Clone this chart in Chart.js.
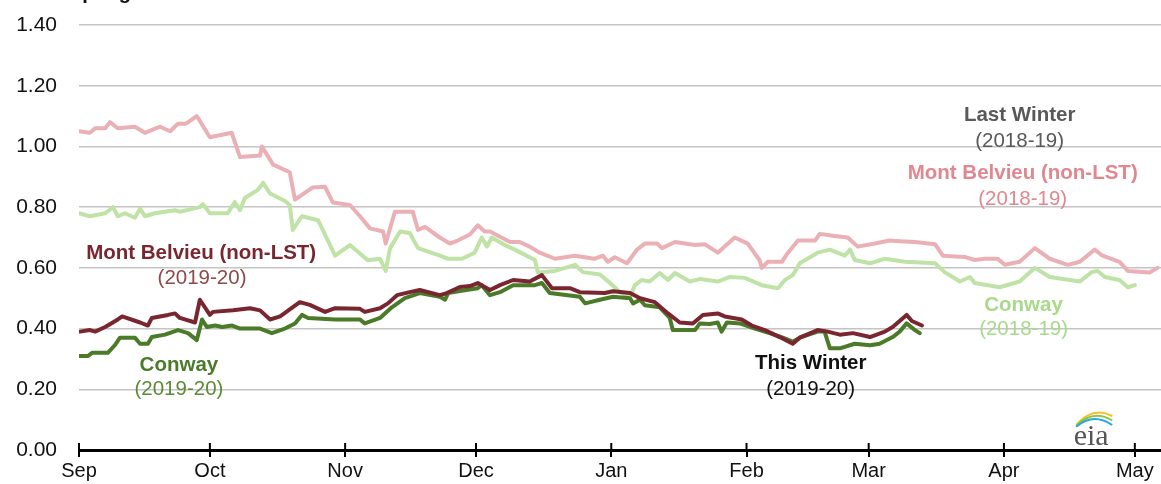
<!DOCTYPE html>
<html>
<head>
<meta charset="utf-8">
<script src="https://cdn.jsdelivr.net/npm/chart.js@4.4.1/dist/chart.umd.min.js"></script>
<style>
  body { margin: 0; background: #fff; }
  canvas { display: block; }
</style>
</head>
<body>
<canvas id="propane-chart" width="1161" height="484"></canvas>
<script>
// x values are days since Sep 1, y values are dollars per gallon

// month tick positions and names
const monthDays = [0, 30, 61, 91, 122, 153, 181, 212, 242];
const monthNames = ['Sep', 'Oct', 'Nov', 'Dec', 'Jan', 'Feb', 'Mar', 'Apr', 'May'];
const yTicks = [0, 0.2, 0.4, 0.6, 0.8, 1.0, 1.2, 1.4];

// Mont Belvieu (non-LST), last winter 2018-19
const mbLastDays = [0, 2.5, 3.7, 6, 7.1, 8.9, 12.8, 15.1, 18.6, 20.9, 22.7, 24.5, 27, 30, 35, 36.9, 41.5, 41.9, 44.5, 48.3, 49.5, 53.6, 56.4, 58.2, 62.1, 64.4, 66.7, 69.7, 70.3, 72.4, 76.5, 77.7, 79.3, 82.7, 85, 86.8, 89.6, 91.4, 93, 94.2, 98.8, 101, 103.3, 105.6, 109.1, 113.7, 118.2, 120.1, 121.2, 122.8, 125.6, 127.9, 129.7, 132.5, 133.6, 136.6, 141.2, 143.4, 146.4, 150.3, 153.3, 156, 156.5, 157.9, 161.1, 162.5, 164.8, 168.7, 169.8, 173.2, 176.2, 178.5, 182.4, 185.8, 188.1, 191.6, 196.2, 198, 203, 205.3, 207.6, 210.6, 212.2, 215.6, 219.1, 222.5, 226.6, 229.4, 232.8, 234.6, 238.5, 240.4, 245.4, 247.2];
const mbLastVals = [1.05, 1.045, 1.06, 1.06, 1.08, 1.06, 1.065, 1.045, 1.065, 1.05, 1.075, 1.075, 1.10, 1.03, 1.045, 0.965, 0.97, 1.00, 0.94, 0.915, 0.825, 0.865, 0.867, 0.815, 0.807, 0.77, 0.73, 0.72, 0.68, 0.785, 0.785, 0.725, 0.735, 0.70, 0.68, 0.69, 0.71, 0.74, 0.72, 0.72, 0.685, 0.685, 0.67, 0.65, 0.63, 0.64, 0.63, 0.64, 0.62, 0.635, 0.615, 0.66, 0.68, 0.68, 0.665, 0.685, 0.675, 0.678, 0.65, 0.70, 0.68, 0.625, 0.60, 0.62, 0.62, 0.65, 0.69, 0.69, 0.712, 0.705, 0.70, 0.67, 0.68, 0.69, 0.688, 0.685, 0.678, 0.64, 0.636, 0.626, 0.63, 0.63, 0.61, 0.62, 0.665, 0.63, 0.61, 0.62, 0.66, 0.64, 0.62, 0.59, 0.585, 0.60];

// Conway, last winter 2018-19
const cwLastDays = [0, 2.5, 6, 7.8, 8.9, 10.5, 12.8, 14, 15.1, 17.4, 22, 23.1, 27.7, 28.4, 30, 34.1, 35.7, 36.9, 38, 41, 42.2, 43.8, 47.2, 48.3, 49, 51.1, 54.8, 58.7, 62.1, 66.2, 69, 70.3, 71.3, 73.6, 75.8, 77.7, 82.7, 84.6, 87.8, 90.7, 92.3, 93.5, 94.6, 97.6, 99.9, 104.5, 105.2, 109.1, 113.7, 115.5, 119.4, 121.7, 124, 126.3, 127.4, 129, 130.8, 133.1, 135, 136.6, 140, 142.3, 146.4, 149.2, 152.6, 156.5, 160.2, 161.8, 163.6, 165.2, 169.3, 172.1, 175.5, 176.7, 177.8, 181.3, 184.7, 189.3, 196.2, 198.4, 201.9, 204.2, 205.3, 211, 215.6, 219.1, 222.5, 229.4, 232.1, 233.5, 235.1, 238.5, 240.4, 242];
const cwLastVals = [0.78, 0.77, 0.78, 0.80, 0.77, 0.78, 0.765, 0.795, 0.77, 0.78, 0.79, 0.785, 0.80, 0.81, 0.78, 0.78, 0.817, 0.79, 0.83, 0.857, 0.88, 0.845, 0.82, 0.807, 0.725, 0.77, 0.757, 0.64, 0.675, 0.625, 0.63, 0.59, 0.665, 0.72, 0.715, 0.665, 0.64, 0.63, 0.63, 0.65, 0.70, 0.67, 0.70, 0.675, 0.66, 0.626, 0.585, 0.59, 0.61, 0.586, 0.578, 0.55, 0.52, 0.505, 0.543, 0.56, 0.555, 0.583, 0.56, 0.583, 0.555, 0.563, 0.555, 0.57, 0.567, 0.543, 0.533, 0.56, 0.576, 0.615, 0.65, 0.66, 0.64, 0.66, 0.626, 0.615, 0.63, 0.62, 0.615, 0.586, 0.555, 0.57, 0.55, 0.536, 0.555, 0.60, 0.57, 0.555, 0.586, 0.59, 0.57, 0.56, 0.536, 0.543];

// Mont Belvieu (non-LST), this winter 2019-20
const mbThisDays = [0.2, 2.5, 3.7, 6, 8.9, 9.9, 14, 15.8, 16.7, 20.4, 22, 23.1, 26.6, 27.7, 30, 30.7, 35.3, 39.2, 41.5, 43.8, 46.1, 50.6, 52.9, 56.4, 58.7, 64.4, 65.5, 69, 70.8, 72.9, 75.8, 78.1, 82.7, 84.3, 87.3, 89.6, 91.4, 94.2, 96.5, 99.5, 103.3, 106.1, 108.4, 112.5, 114.8, 120.5, 122.4, 126.3, 128.6, 132, 135, 137.7, 140.7, 143, 146.4, 148, 151.9, 154.2, 157.2, 160.6, 163.6, 165.2, 169.3, 171.6, 174.4, 177.4, 181.3, 184.7, 186.5, 189.7, 190.9, 193.2];
const mbThisVals = [0.39, 0.395, 0.39, 0.405, 0.43, 0.44, 0.42, 0.41, 0.435, 0.445, 0.45, 0.435, 0.42, 0.495, 0.445, 0.455, 0.46, 0.467, 0.46, 0.43, 0.44, 0.487, 0.478, 0.455, 0.467, 0.465, 0.455, 0.467, 0.483, 0.51, 0.52, 0.527, 0.51, 0.517, 0.537, 0.54, 0.55, 0.527, 0.543, 0.56, 0.555, 0.576, 0.533, 0.533, 0.52, 0.517, 0.523, 0.517, 0.50, 0.487, 0.45, 0.42, 0.417, 0.445, 0.45, 0.44, 0.43, 0.41, 0.395, 0.372, 0.35, 0.37, 0.395, 0.39, 0.38, 0.385, 0.372, 0.39, 0.405, 0.445, 0.425, 0.41];

// Conway, this winter 2019-20
const cwThisDays = [0, 2.1, 3, 6.6, 8.2, 9.4, 12.8, 14, 15.8, 16.7, 19.7, 22.7, 25, 27, 28.2, 29.3, 31.2, 32.8, 35.1, 36.9, 41.5, 44.2, 47.2, 49.5, 51.1, 52.5, 58.7, 64.4, 65.5, 69, 71.7, 74.7, 78.1, 82.7, 83.9, 84.6, 87.3, 91.4, 92.3, 94.2, 96.5, 99.5, 104.5, 106.1, 107.9, 114.8, 116, 119.4, 122.4, 126.3, 127, 128.6, 129.7, 133.1, 135.4, 136.1, 141.2, 142.3, 144.6, 146.4, 147.3, 148.5, 151.5, 154.9, 158.3, 161.3, 163.6, 165.2, 169.3, 170.9, 172.1, 174.4, 177.8, 181.3, 183.5, 186.5, 188.1, 189.7, 191.6, 192.7];
const cwThisVals = [0.31, 0.31, 0.32, 0.32, 0.345, 0.37, 0.37, 0.35, 0.35, 0.372, 0.38, 0.395, 0.385, 0.362, 0.43, 0.405, 0.41, 0.405, 0.41, 0.40, 0.40, 0.385, 0.40, 0.417, 0.445, 0.435, 0.43, 0.43, 0.417, 0.435, 0.47, 0.50, 0.517, 0.505, 0.495, 0.517, 0.524, 0.533, 0.543, 0.51, 0.52, 0.543, 0.543, 0.55, 0.517, 0.505, 0.483, 0.495, 0.505, 0.50, 0.483, 0.495, 0.477, 0.47, 0.435, 0.395, 0.395, 0.417, 0.415, 0.42, 0.39, 0.42, 0.417, 0.40, 0.385, 0.37, 0.357, 0.37, 0.39, 0.39, 0.335, 0.335, 0.35, 0.345, 0.35, 0.372, 0.39, 0.417, 0.395, 0.385];

// text labels placed in data coordinates
const notes = [
    { text: 'Last Winter', day: 215.6, val: 1.103, color: '#595959', bold: true },
    { text: '(2018-19)', day: 215.6, val: 1.018, color: '#595959', bold: false },
    { text: 'Mont Belvieu (non-LST)', day: 216.3, val: 0.912, color: '#e08790', bold: true },
    { text: '(2018-19)', day: 216.3, val: 0.827, color: '#e08790', bold: false },
    { text: 'Conway', day: 216.5, val: 0.478, color: '#a9d98c', bold: true },
    { text: '(2018-19)', day: 216.5, val: 0.399, color: '#a9d98c', bold: false },
    { text: 'Mont Belvieu (non-LST)', day: 28, val: 0.649, color: '#7a2630', bold: true },
    { text: '(2019-20)', day: 28.2, val: 0.567, color: '#8c4a4a', bold: false },
    { text: 'Conway', day: 22.9, val: 0.28, color: '#4b7a29', bold: true },
    { text: '(2019-20)', day: 22.9, val: 0.20, color: '#5e8a38', bold: false },
    { text: 'This Winter', day: 167.7, val: 0.287, color: '#111111', bold: true },
    { text: '(2019-20)', day: 167.7, val: 0.20, color: '#111111', bold: false },
];

const FONT = '"Liberation Sans", Arial, sans-serif';

function toPoints(days, vals) {
    return days.map((d, i) => ({ x: d, y: vals[i] }));
}

function lineSet(label, days, vals, color) {
    return {
        label: label,
        data: toPoints(days, vals),
        borderColor: color,
        borderWidth: 4,
        pointRadius: 0,
        tension: 0,
        borderJoinStyle: 'round',
        borderCapStyle: 'round',
    };
}

// draws the upper half of the month ticks, the text labels and the eia mark
const overlay = {
    id: 'overlay',
    afterDraw(chart) {
        const ctx = chart.ctx;
        const x = chart.scales.x;
        const y = chart.scales.y;
        const y0 = y.getPixelForValue(0);
        ctx.save();

        ctx.strokeStyle = '#000';
        ctx.lineWidth = 2;
        monthDays.forEach(d => {
            const px = x.getPixelForValue(d);
            ctx.beginPath();
            ctx.moveTo(px, y0 - 7);
            ctx.lineTo(px, y0);
            ctx.stroke();
        });

        ctx.textAlign = 'center';
        ctx.textBaseline = 'middle';
        notes.forEach(n => {
            ctx.font = (n.bold ? 'bold ' : '') + '20.5px ' + FONT;
            ctx.fillStyle = n.color;
            ctx.fillText(n.text, x.getPixelForValue(n.day), y.getPixelForValue(n.val));
        });

        // unit title, cut off at the top edge
        ctx.textAlign = 'left';
        ctx.textBaseline = 'alphabetic';
        ctx.font = 'bold 20px ' + FONT;
        ctx.fillStyle = '#111';
        ctx.fillText('dollars per gallon', 11, -1);

        // eia logo
        const lx = x.getPixelForValue(232);
        ctx.font = '30px "Liberation Serif", "DejaVu Serif", serif';
        ctx.fillStyle = '#555';
        ctx.textAlign = 'center';
        ctx.fillText('eia', lx, y0 - 5);
        const arcs = [['#f2c12e', 0], ['#8cc63f', 3], ['#2aa7df', 6]];
        ctx.lineWidth = 2;
        arcs.forEach(a => {
            ctx.strokeStyle = a[0];
            ctx.beginPath();
            ctx.moveTo(lx - 15, y0 - 25 + a[1] * 0.3);
            ctx.quadraticCurveTo(lx + 2, y0 - 44 + a[1], lx + 21, y0 - 34 + a[1] * 1.5);
            ctx.stroke();
        });
        ctx.restore();
    }
};

const chart = new Chart(document.getElementById('propane-chart').getContext('2d'), {
    type: 'line',
    data: {
        datasets: [
            lineSet('Mont Belvieu (non-LST) 2019-20', mbThisDays, mbThisVals, '#7a2630'),
            lineSet('Conway 2019-20', cwThisDays, cwThisVals, '#4b7a29'),
            lineSet('Conway 2018-19', cwLastDays, cwLastVals, '#bfe3a6'),
            lineSet('Mont Belvieu (non-LST) 2018-19', mbLastDays, mbLastVals, '#eab0b5'),
        ],
    },
    options: {
        responsive: false,
        animation: false,
        layout: { padding: { top: 25, right: 0, left: 0, bottom: 0 } },
        plugins: {
            legend: { display: false },
            tooltip: { enabled: false },
        },
        scales: {
            x: {
                type: 'linear',
                min: 0,
                max: 248,
                afterBuildTicks: scale => {
                    scale.ticks = monthDays.map(d => ({ value: d }));
                },
                afterFit: scale => {
                    scale.height = 34;
                    scale.paddingLeft = 0;
                    scale.paddingRight = 0;
                },
                ticks: {
                    autoSkip: false,
                    maxRotation: 0,
                    padding: 2,
                    color: '#111',
                    font: { family: FONT, size: 20 },
                    callback: v => monthNames[monthDays.indexOf(v)],
                },
                grid: {
                    drawOnChartArea: false,
                    drawTicks: true,
                    tickLength: 7,
                    color: '#000',
                    lineWidth: 2,
                },
                border: { display: true, color: '#000', width: 3 },
            },
            y: {
                min: 0,
                max: 1.4,
                afterBuildTicks: scale => {
                    scale.ticks = yTicks.map(v => ({ value: v }));
                },
                afterFit: scale => {
                    scale.width = 79;
                    scale.paddingTop = 0;
                    scale.paddingBottom = 0;
                },
                ticks: {
                    padding: 22,
                    color: '#111',
                    font: { family: FONT, size: 21 },
                    callback: v => v.toFixed(2),
                },
                grid: {
                    drawTicks: false,
                    color: ctx => ctx.tick && ctx.tick.value === 0 ? 'rgba(0,0,0,0)' : '#c4c4c4',
                    lineWidth: 1.5,
                },
                border: { display: false },
            },
        },
    },
    plugins: [overlay],
});
</script>
</body>
</html>
